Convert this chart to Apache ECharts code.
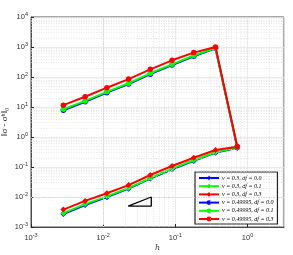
<!DOCTYPE html>
<html><head><meta charset="utf-8">
<script src="https://cdn.jsdelivr.net/npm/echarts@6/dist/echarts.min.js"></script>
<style>html,body{margin:0;padding:0;background:#fff}#c{width:293px;height:255px}</style>
</head><body><div id="c"></div>
<script>
const h = [0.00281, 0.00562, 0.01125, 0.0225, 0.045, 0.09, 0.18, 0.36, 0.72];
const seriesNames = ['ν = 0.3, df = 0.0','ν = 0.3, df = 0.1','ν = 0.3, df = 0.3','ν = 0.49995, df = 0.0','ν = 0.49995, df = 0.1','ν = 0.49995, df = 0.3'];
const nu03_df00 = [0.0027, 0.0054, 0.0099, 0.019, 0.041, 0.083, 0.16, 0.30, 0.44];
const nu03_df01 = [0.0029, 0.0058, 0.0105, 0.020, 0.043, 0.088, 0.168, 0.31, 0.45];
const nu03_df03 = [0.0038, 0.0074, 0.0133, 0.025, 0.054, 0.108, 0.204, 0.369, 0.475];
const nu49_df00 = [7.8, 15, 30, 58, 124, 250, 490, 900, 0.45];
const nu49_df01 = [8.4, 16, 32, 62, 133, 265, 520, 930, 0.46];
const nu49_df03 = [11.5, 22, 44, 85, 180, 360, 650, 1000, 0.48];
const triangleH = [0.0222, 0.0464, 0.0464, 0.0222];
const triangleY = [0.005, 0.005, 0.01, 0.005];

const colors = ['#0000ff','#00ff00','#ff0000','#0000ff','#00ff00','#ff0000'];
const symbols = ['diamond','diamond','diamond','circle','circle','circle'];
const values = [nu03_df00, nu03_df01, nu03_df03, nu49_df00, nu49_df01, nu49_df03];

function fmt(v){
  const e = Math.round(Math.log10(v));
  if (Math.abs(Math.log10(v) - e) > 1e-6) return '';
  return '{b|10}{s|' + e + '}';
}
const rich = {b:{fontSize:7.5,color:'#333',fontFamily:'Liberation Sans'}, s:{fontSize:5.5,color:'#333',fontFamily:'Liberation Sans',verticalAlign:'bottom',padding:[0,0,5,0]}};

const minorX = [], minorY = [];
for (let e=-3;e<=0;e++) for (let k=2;k<=9;k++){ const v=k*Math.pow(10,e); if (v<3.2) minorX.push(v); }
for (let e=-3;e<=3;e++) for (let k=2;k<=9;k++) minorY.push(k*Math.pow(10,e));

const series = values.map((vals,i)=>({
  name: seriesNames[i], type:'line', data: h.map((x,j)=>[x, vals[j]]),
  symbol: symbols[i], symbolSize: symbols[i]==='diamond'?6:5.5,
  itemStyle:{color:colors[i]}, lineStyle:{color:colors[i], width:2},
  z: 3+i
}));
series.push({
  type:'line', data: triangleH.map((x,j)=>[x, triangleY[j]]), symbol:'none',
  lineStyle:{color:'#000', width:1.3}, z:10, silent:true,
  markLine:{silent:true, symbol:'none', label:{show:false},
    lineStyle:{color:'#d8d8d8', type:[1,1.5], width:0.6},
    data: minorX.map(v=>({xAxis:v})).concat(minorY.map(v=>({yAxis:v})))}
});

const axisCommon = {
  type:'log', logBase:10,
  axisLine:{show:true, lineStyle:{color:'#262626', width:0.8}},
  axisTick:{show:true, inside:true, length:3, lineStyle:{color:'#262626'}},
  splitLine:{show:true, lineStyle:{color:'#e6e6e6', width:0.8}}
};

const chart = echarts.init(document.getElementById('c'), null, {renderer:'canvas'});
chart.setOption({
  animation:false,
  textStyle:{fontFamily:'Liberation Sans'},
  grid:{left:31, top:17, right:9, bottom:28, containLabel:false, outerBoundsMode:'none', show:true, borderColor:'#262626', borderWidth:0.8},
  legend:{
    data: seriesNames, orient:'vertical', left:195, top:172,
    backgroundColor:'#fff', borderColor:'#222', borderWidth:1.2, padding:[3,4,2,3],
    itemWidth:20, itemHeight:6, itemGap:2.2,
    textStyle:{fontSize:6, fontStyle:'italic', fontFamily:'Liberation Serif', color:'#000', padding:[0,0,0,-2]}
  },
  xAxis:Object.assign({}, axisCommon, {min:0.001, max:3.2, name:'h', nameLocation:'middle', nameGap:17, nameMoveOverlap:false,
    nameTextStyle:{fontSize:8, fontStyle:'italic', fontFamily:'DejaVu Serif', color:'#333'},
    axisLabel:{formatter:fmt, rich:rich, showMaxLabel:false, margin:5}}),
  yAxis:Object.assign({}, axisCommon, {min:0.001, max:10000, name:'‖σ - σʰ‖₀', nameLocation:'middle', nameGap:22, nameMoveOverlap:false,
    nameTextStyle:{fontSize:9, fontFamily:'Liberation Serif', color:'#333'},
    axisLabel:{formatter:fmt, rich:rich, showMaxLabel:true, margin:3}}),
  series: series
});
</script></body></html>
